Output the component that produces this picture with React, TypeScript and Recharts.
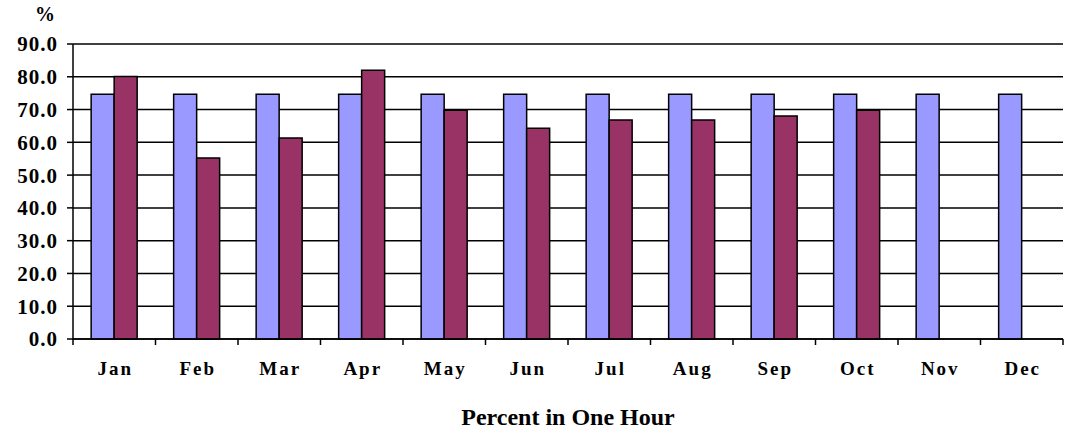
import { BarChart, Bar, XAxis, YAxis, CartesianGrid } from 'recharts'

const months = ['Jan', 'Feb', 'Mar', 'Apr', 'May', 'Jun', 'Jul', 'Aug', 'Sep', 'Oct', 'Nov', 'Dec']
const target = [74.7, 74.7, 74.7, 74.7, 74.7, 74.7, 74.7, 74.7, 74.7, 74.7, 74.7, 74.7]
const actual: (number | null)[] = [80.1, 55.2, 61.3, 82.0, 69.8, 64.3, 66.8, 66.8, 68.0, 69.8, null, null]
const yTicks = [0, 10, 20, 30, 40, 50, 60, 70, 80, 90]

const data = months.map((m, i) => ({ month: m, target: target[i], actual: actual[i] }))

const font = '"Liberation Serif", "Times New Roman", serif'

// label at the band centre, tick mark at the band boundary (Excel style)
function MonthTick(props: any) {
  const { x, y, payload, index } = props
  const half = 82.5 / 2
  return (
    <g>
      <line x1={x - half} y1={y - 8} x2={x - half} y2={y - 2} stroke="#000" strokeWidth={1.5} />
      {index === months.length - 1 && (
        <line x1={x + half} y1={y - 8} x2={x + half} y2={y - 2} stroke="#000" strokeWidth={1.5} />
      )}
      <text x={x + 1} y={y + 28} textAnchor="middle" fontFamily={font} fontWeight="bold" fontSize={19} letterSpacing={2} fill="#000">
        {payload.value}
      </text>
    </g>
  )
}

export default function App() {
  return (
    <div style={{ position: 'absolute', left: 0, top: 0, width: 1068, height: 430, background: '#fff' }}>
      <div style={{ position: 'absolute', left: 35, top: 3, fontFamily: font, fontWeight: 'bold', fontSize: 20 }}>%</div>
      <BarChart
        width={1068}
        height={430}
        data={data}
        margin={{ top: 44, right: 5, left: 8, bottom: 51 }}
        barCategoryGap="22%"
        barGap={0}
      >
        <CartesianGrid vertical={false} stroke="#000" strokeWidth={1.5} />
        <XAxis
          dataKey="month"
          stroke="#000"
          strokeWidth={1.5}
          tickLine={false}
          tick={<MonthTick />}
          interval={0}
          height={40}
        />
        <YAxis
          domain={[0, 90]}
          ticks={yTicks}
          width={65}
          stroke="#000"
          strokeWidth={1.5}
          tickSize={6}
          tickMargin={9}
          tickFormatter={(v) => Number(v).toFixed(1)}
          tick={{ fill: '#000', fontFamily: font, fontWeight: 'bold', fontSize: 21, letterSpacing: 1 }}
        />
        <Bar dataKey="target" fill="#9999FF" stroke="#000" strokeWidth={1.5} isAnimationActive={false} />
        <Bar dataKey="actual" fill="#993366" stroke="#000" strokeWidth={1.5} isAnimationActive={false} />
      </BarChart>
      <div
        style={{
          position: 'absolute',
          left: 0,
          width: 1136,
          top: 404,
          textAlign: 'center',
          fontFamily: font,
          fontWeight: 'bold',
          fontSize: 24,
        }}
      >
        Percent in One Hour
      </div>
    </div>
  )
}
